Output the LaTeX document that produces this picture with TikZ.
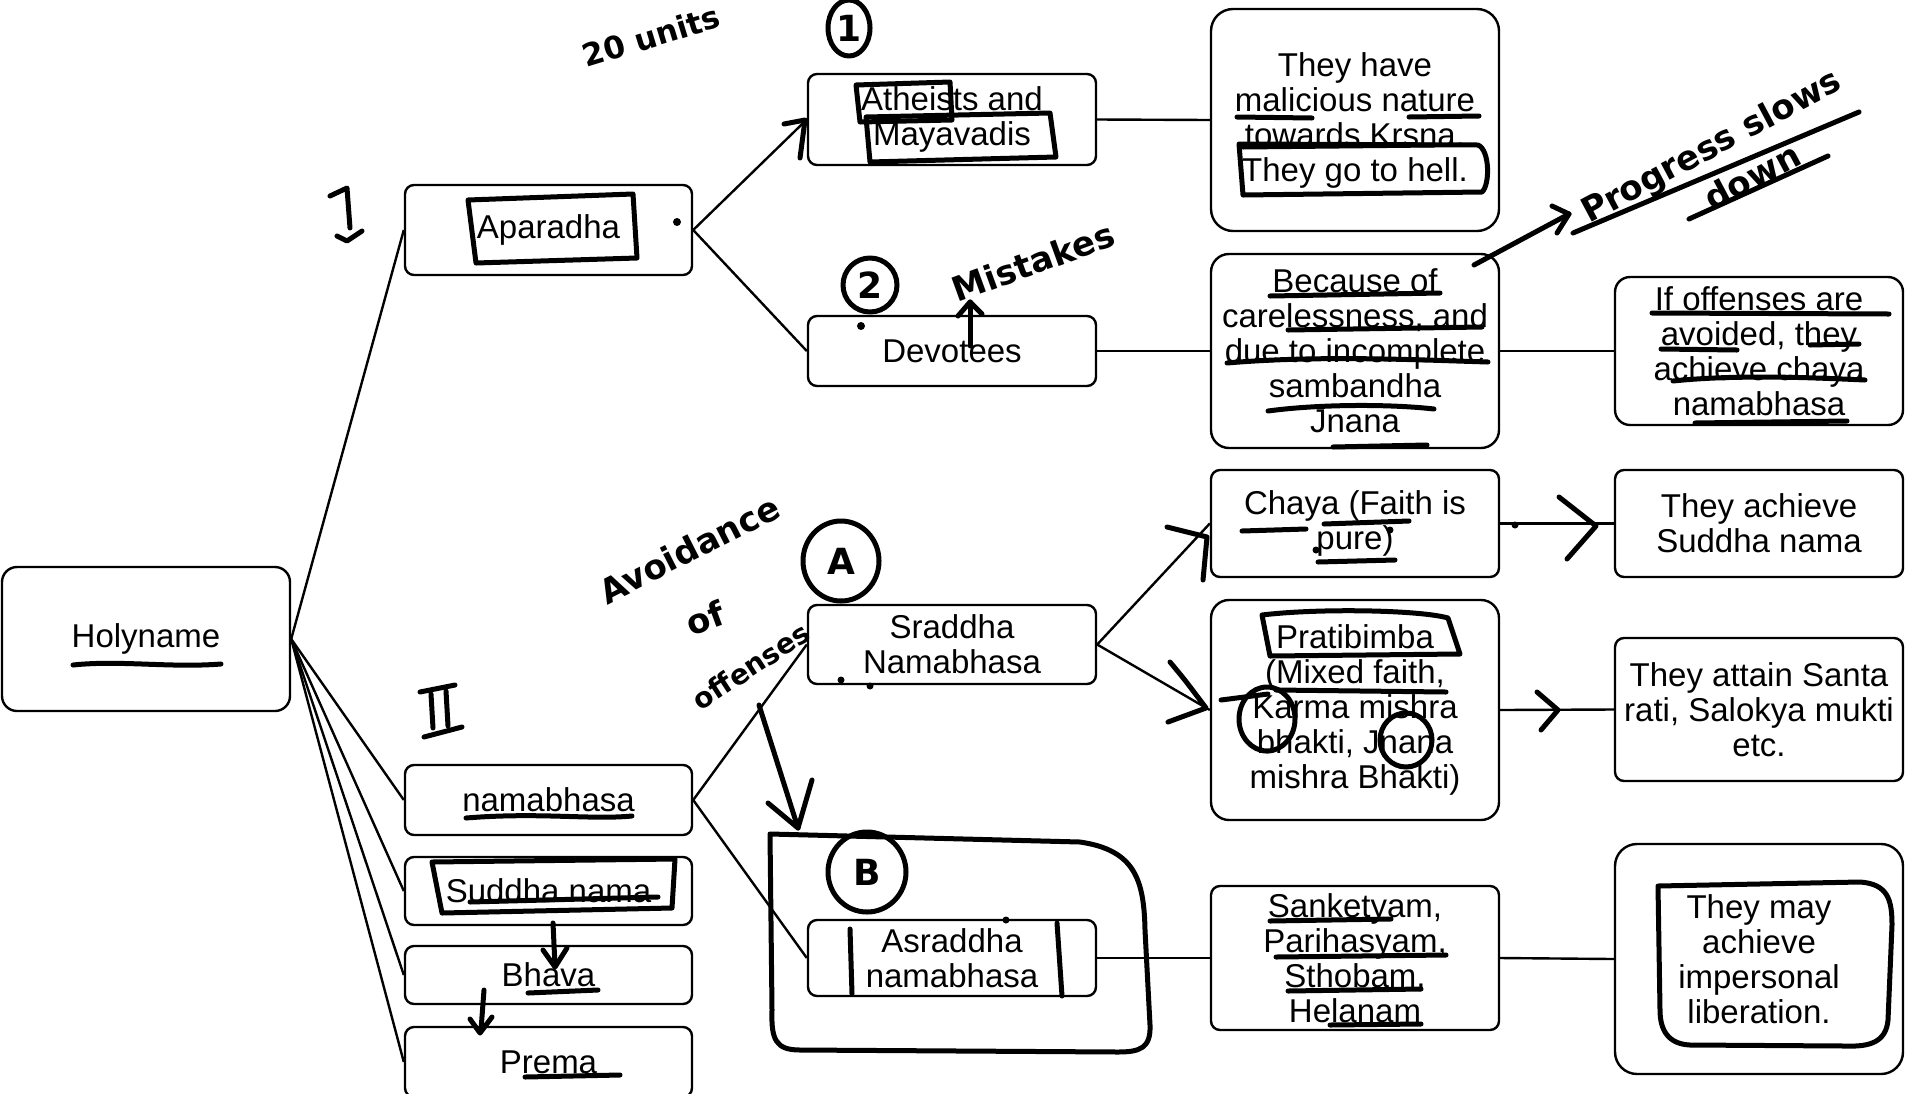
\documentclass[tikz,border=0pt]{standalone}
\usepackage{fontspec}
\setmainfont{Liberation Sans}
\newfontfamily\hand{DejaVu Sans}
\begin{document}
\begin{tikzpicture}[x=1pt,y=-1pt,
  box/.style={draw, line width=2.4pt, rounded corners=9pt, align=center, inner sep=0pt,
              font=\fontsize{33}{35}\selectfont},
  conn/.style={line width=2.4pt},
  pen/.style={line width=5pt, line cap=round, line join=round},
  handtext/.style={font=\hand\bfseries\fontsize{34}{34}\selectfont, inner sep=0pt},
  circled/.style={font=\hand\bfseries\fontsize{36}{36}\selectfont, inner sep=0pt}]
\useasboundingbox (0,0) rectangle (1905,1093);

% ---------- typed boxes ----------
\node[box, minimum width=288pt, minimum height=144pt, rounded corners=15pt] (holy) at (146,639) {Holyname};
\node[box, minimum width=287pt, minimum height=90pt] (apa) at (548.5,230) {Aparadha};
\node[box, minimum width=287pt, minimum height=70pt] (nama) at (548.5,800) {namabhasa};
\node[box, minimum width=287pt, minimum height=68pt] (sud) at (548.5,891) {Suddha nama};
\node[box, minimum width=287pt, minimum height=58pt] (bhav) at (548.5,975) {Bhava};
\node[box, minimum width=287pt, minimum height=70pt] (prem) at (548.5,1062) {Prema};

\node[box, minimum width=288pt, minimum height=91pt] (ath) at (952,119.5) {Atheists and\\Mayavadis};
\node[box, minimum width=288pt, minimum height=70pt] (dev) at (952,351) {Devotees};
\node[box, minimum width=288pt, minimum height=79pt] (srad) at (952,644.5) {Sraddha\\Namabhasa};
\node[box, minimum width=288pt, minimum height=76pt] (asr) at (952,958) {Asraddha\\namabhasa};

\node[box, minimum width=288pt, minimum height=222pt, rounded corners=22pt] (mal) at (1355,120) {They have\\malicious nature\\towards Krsna.\\They go to hell.};
\node[box, minimum width=288pt, minimum height=194pt, rounded corners=18pt] (beca) at (1355,351) {Because of\\carelessness, and\\due to incomplete\\sambandha\\Jnana};
\node[box, minimum width=288pt, minimum height=107pt] (chaya) at (1355,523.5) {Chaya (Faith is\\pure)};
\node[box, minimum width=288pt, minimum height=220pt, rounded corners=18pt] (prat) at (1355,710) {Pratibimba\\(Mixed faith,\\Karma mishra\\bhakti, Jnana\\mishra Bhakti)};
\node[box, minimum width=288pt, minimum height=144pt] (sank) at (1355,958) {Sanketyam,\\Parihasyam,\\Sthobam,\\Helanam};

\node[box, minimum width=288pt, minimum height=148pt, rounded corners=15pt] (iff) at (1759,351) {If offenses are\\avoided, they\\achieve chaya\\namabhasa};
\node[box, minimum width=288pt, minimum height=107pt] (ach) at (1759,523.5) {They achieve\\Suddha nama};
\node[box, minimum width=288pt, minimum height=143pt] (santa) at (1759,709.5) {They attain Santa\\rati, Salokya mukti\\etc.};
\node[box, minimum width=288pt, minimum height=230pt, rounded corners=22pt] (may) at (1759,959) {They may\\achieve\\impersonal\\liberation.};

% ---------- connectors ----------
\draw[conn] (holy.east) -- (apa.west);
\draw[conn] (holy.east) -- (nama.west);
\draw[conn] (holy.east) -- (sud.west);
\draw[conn] (holy.east) -- (bhav.west);
\draw[conn] (holy.east) -- (prem.west);
\draw[conn] (apa.east) -- (ath.west);
\draw[conn] (apa.east) -- (dev.west);
\draw[conn] (ath.east) -- (mal.west);
\draw[conn] (dev.east) -- (beca.west);
\draw[conn] (beca.east) -- (iff.west);
\draw[conn] (nama.east) -- (srad.west);
\draw[conn] (nama.east) -- (asr.west);
\draw[conn] (srad.east) -- (chaya.west);
\draw[conn] (srad.east) -- (prat.west);
\draw[conn] (chaya.east) -- (ach.west);
\draw[conn] (prat.east) -- (santa.west);
\draw[conn] (asr.east) -- (sank.west);
\draw[conn] (sank.east) -- (may.west);

% ---------- pen annotations: left column ----------
\draw[pen] (73,665) .. controls (120,660) and (170,668) .. (221,664);
% roman numerals
\draw[pen] (330,196) -- (347,188) -- (350,228);
\draw[pen] (337,236) -- (347,241) -- (362,231);
\draw[pen] (420,692) -- (455,685);
\draw[pen] (431,694) -- (433,728);
\draw[pen] (446,691) -- (448,726);
\draw[pen] (424,737) -- (462,727);
% Aparadha frame
\draw[pen] (468,200) -- (633,194) -- (637,258) -- (476,263) -- cycle;
\fill (677,222) circle (4pt);
% namabhasa / Suddha nama / Bhava / Prema
\draw[pen] (466,818) .. controls (540,812) and (590,820) .. (632,816);
\draw[pen] (432,862) -- (675,859) -- (672,908) -- (442,913) -- cycle;
\draw[pen] (470,902) -- (658,897);
\draw[pen] (553,923) -- (555,966);
\draw[pen] (543,950) -- (555,967) -- (567,948);
\draw[pen] (528,993) -- (598,990);
\draw[pen] (484,990) -- (481,1030);
\draw[pen] (470,1019) -- (480,1033) -- (492,1017);
\draw[pen] (525,1077) -- (620,1075);

% ---------- pen annotations: Aparadha branch ----------
\node[handtext, rotate=17, font=\hand\bfseries\fontsize{31}{31}\selectfont] (units) at (651,36) {20 units};
\node[circled] (one) at (849,28) {1};
\draw[pen] (one) ellipse (21pt and 28pt);
\draw[pen] (784,124) -- (805,120) -- (800,158);
\draw[pen] (856,85) -- (950,82) -- (952,120) -- (860,122) -- cycle;
\draw[pen] (866,117) -- (1050,113) -- (1056,157) -- (870,162) -- cycle;
\node[circled] (two) at (870,285) {2};
\draw[pen] (two) ellipse (27pt and 27pt);
\fill (861,326) circle (4pt);
\node[handtext, rotate=20] (mist) at (1033,262) {Mistakes};
\coordinate (mistfoot) at (970,302);
\draw[pen] (970,346) -- (mistfoot);
\draw[pen] (958,316) -- (mistfoot) -- (982,314);

% They have box
\draw[pen] (1237,117) -- (1312,118);
\draw[pen] (1409,117) -- (1479,116);
\draw[pen] (1243,147) -- (1434,145);
\draw[pen] (1239,144) -- (1478,145) .. controls (1490,150) and (1490,185) .. (1482,192) -- (1243,195) -- cycle;

% Because box
\draw[pen] (1270,296) -- (1440,293);
\draw[pen] (1288,330) -- (1482,327);
\draw[pen] (1227,363) .. controls (1320,355) and (1420,360) .. (1488,362);
\draw[pen] (1268,411) .. controls (1320,404) and (1390,404) .. (1434,409);
\draw[pen] (1333,447) -- (1427,445);
\coordinate (slowtip) at (1569,214);
\draw[pen] (1474,265) -- (slowtip);
\draw[pen] (1552,206) -- (slowtip) -- (1557,233);
\node[handtext, rotate=28] (prog) at (1712,148) {Progress slows};
\node[handtext, rotate=28] (down) at (1752,176) {down};
\draw[pen] (1573,233) -- (1859,112);
\draw[pen] (1689,219) -- (1828,156);

% If offenses box
\draw[pen] (1652,313) -- (1889,314);
\draw[pen] (1661,349) -- (1737,350);
\draw[pen] (1810,345) -- (1859,344);
\draw[pen] (1673,381) .. controls (1740,374) and (1820,378) .. (1865,380);
\draw[pen] (1695,423) -- (1847,421);

% ---------- pen annotations: namabhasa branch ----------
\node[handtext, rotate=27] (avoid) at (689,549) {Avoidance};
\node[handtext, rotate=20] (of) at (705,618) {of};
\node[handtext, rotate=33, font=\hand\bfseries\fontsize{28}{28}\selectfont] (offs) at (751,666) {offenses};
\node[circled] (circA) at (841,561) {A};
\draw[pen] (circA) ellipse (38pt and 40pt);
\fill (841,680) circle (3.5pt);
\fill (870,686) circle (3.5pt);
\coordinate (btip) at (798,828);
\draw[pen] (759,705) -- (btip);
\draw[pen] (768,803) -- (btip) -- (812,780);
% frame around Asraddha group
\draw[pen] (770,834) -- (1080,842) .. controls (1135,850) and (1144,880) .. (1145,930)
  -- (1150,1025) .. controls (1151,1048) and (1140,1052) .. (1118,1052)
  -- (800,1050) .. controls (776,1050) and (771,1040) .. (772,1010) -- cycle;
\node[circled] (circB) at (867,872) {B};
\draw[pen] (circB) ellipse (39pt and 40pt);
\draw[pen] (850,929) -- (852,994);
\draw[pen] (1057,923) -- (1062,996);
\fill (1006,920) circle (3.5pt);

% Chaya / Pratibimba
\draw[pen] (1167,527) -- (1207,537) -- (1203,580);
\draw[pen] (1170,662) .. controls (1185,680) .. (1206,708) -- (1168,722);
\draw[pen] (1242,531) -- (1306,529);
\draw[pen] (1324,524) -- (1409,521);
\draw[pen] (1318,562) -- (1395,560);
\fill (1390,530) circle (3.5pt);
\fill (1316,550) circle (3.5pt);
\fill (1515,525) circle (3.5pt);
\draw[pen] (1559,497) -- (1596,526) -- (1567,559);
\draw[pen] (1537,692) -- (1558,710) -- (1541,730);
\draw[pen] (1262,615) .. controls (1320,608) and (1420,610) .. (1448,618) -- (1460,654) -- (1270,656) -- cycle;
\draw[pen] (1276,690) -- (1446,692);
\draw[pen] (1221,700) -- (1268,694);
\draw[pen] (1267,719) ellipse (28pt and 32pt);
\draw[pen] (1406,740) ellipse (26pt and 27pt);

% Sanketyam box
\draw[pen] (1270,921) -- (1391,919);
\draw[pen] (1276,957) -- (1446,955);
\draw[pen] (1288,991) -- (1421,989);
\draw[pen] (1330,1025) -- (1421,1024);

% They may box frame
\draw[pen] (1658,886) -- (1860,882) .. controls (1888,884) and (1892,900) .. (1892,925)
  -- (1888,1020) .. controls (1886,1042) and (1870,1047) .. (1845,1046)
  -- (1690,1045) .. controls (1668,1044) and (1660,1030) .. (1660,1010) -- cycle;
\end{tikzpicture}
\end{document}
